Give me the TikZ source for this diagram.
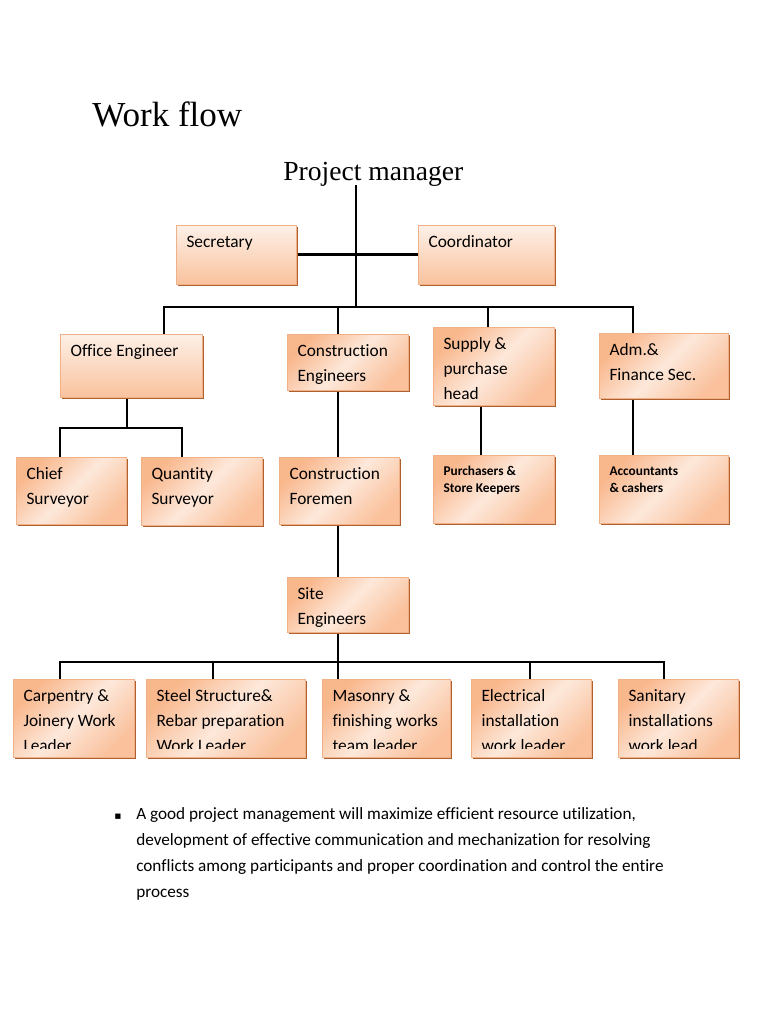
\documentclass[tikz,border=0pt]{standalone}
\usepackage{fontspec}
\setmainfont{Carlito}[Ligatures=NoCommon]
\newfontfamily\titlefont{Liberation Serif}
\newfontfamily\symfont{DejaVu Sans}
\usetikzlibrary{positioning, calc, shadows, backgrounds}
\definecolor{boxorange}{HTML}{F9B78C}
\definecolor{boxlight}{HTML}{FDE8DA}
\definecolor{boxtop}{HTML}{FDF0E7}
\definecolor{boxbottom}{HTML}{F9C29D}
\definecolor{boxedge}{HTML}{B05F2E}
\definecolor{boxline}{HTML}{F0B088}
\newcommand\boxfont{\fontsize{13}{18.75}\selectfont}
\newcommand\smallboxfont{\fontsize{10}{12.75}\selectfont\bfseries}
\newcommand\lines[1]{\begin{tabular}[t]{@{}l@{}}#1\end{tabular}}

\tikzset{
  clip inset/.store in=\clipinset, clip inset=2.5pt,
  link/.style={draw=black, line width=2pt, line cap=rect},
  orgbox/.style 2 args={draw=boxline, line width=0.4pt, anchor=north west, inner sep=0pt,
    minimum width=#1*0.75pt, minimum height=#2*0.75pt,
    general shadow={fill=boxedge, shadow xshift=1.3pt, shadow yshift=-1.3pt}},
  flatbox/.style 2 args={orgbox={#1}{#2}, top color=boxtop, bottom color=boxbottom},
  diagbox/.style 2 args={orgbox={#1}{#2}, left color=boxorange, right color=boxorange!80!boxlight,
    middle color=boxlight, shading angle=45},
  labeltext/.style={anchor=base west, inner sep=0pt, minimum width=0pt, minimum height=0pt, font=\boxfont},
  boxtext/.style={path picture={
    \clip ([yshift=\clipinset]path picture bounding box.south west) rectangle (path picture bounding box.north east);
    \node[labeltext] at ([xshift=7.5pt, yshift=-17pt]path picture bounding box.north west) {\lines{#1}};}},
  smalltext/.style={path picture={\node[labeltext, font=\smallboxfont] at ([xshift=7.5pt, yshift=-15pt]path picture bounding box.north west) {\lines{#1}};}}
}

\begin{document}
\begin{tikzpicture}[x=0.75pt, y=-0.75pt]
  \useasboundingbox (0,0) rectangle (768,1024);

  % Headings
  \node[anchor=base west, inner sep=0pt, font=\titlefont\fontsize{26.3}{30}\selectfont] (title) at (92,127) {Work flow};
  \node[anchor=base west, inner sep=0pt, font=\titlefont\fontsize{20.7}{24}\selectfont] (pm) at (283,180) {Project manager};

  % Staff boxes
  \node[flatbox={120}{59}, boxtext={Secretary}] (sec) at (176,225) {};
  \node[flatbox={136}{59}, boxtext={Coordinator}] (coo) at (418,225) {};

  % Department heads
  \node[flatbox={142}{63}, boxtext={Office Engineer}] (ofe) at (60,334) {};
  \node[diagbox={121}{56}, boxtext={Construction\\Engineers}] (coe) at (287,334) {};
  \node[diagbox={121}{78}, boxtext={Supply \&\\purchase\\head}] (sup) at (433,327) {};
  \node[diagbox={129}{65}, boxtext={Adm.\&\\Finance Sec.}] (adm) at (599,333) {};

  % Third level
  \node[diagbox={110}{67}, boxtext={Chief\\Surveyor}] (chs) at (16,457) {};
  \node[diagbox={121}{68}, boxtext={Quantity\\Surveyor}] (qts) at (141,457) {};
  \node[diagbox={120}{67}, boxtext={Construction\\Foremen}] (cof) at (279,457) {};
  \node[diagbox={121}{68}, smalltext={Purchasers \&\\Store Keepers}] (pur) at (433,455) {};
  \node[diagbox={129}{68}, smalltext={Accountants\\\& cashers}] (acc) at (599,455) {};

  \node[diagbox={121}{55}, boxtext={Site\\Engineers}] (sit) at (287,577) {};

  % Work leaders
  \begin{scope}[clip inset=6.75pt]
    \node[diagbox={121}{78}, boxtext={Carpentry \&\\Joinery Work\\Leader}] (car) at (13,679) {};
    \node[diagbox={159}{78}, boxtext={Steel Structure\&\\Rebar preparation\\Work Leader}] (ste) at (146,679) {};
    \node[diagbox={128}{78}, boxtext={Masonry \&\\finishing works\\team leader}] (mas) at (322,679) {};
    \node[diagbox={120}{78}, boxtext={Electrical\\installation\\work leader}] (ele) at (471,679) {};
    \node[diagbox={120}{78}, boxtext={Sanitary\\installations\\work lead}] (san) at (618,679) {};
  \end{scope}

  % Connectors
  \begin{scope}[on background layer]
    \coordinate (hub) at (356,307);
    \draw[link] (pm.south -| hub) -- (hub);
    \draw[link] (sec.east) -- (coo.west);
    \coordinate (busw) at (164,307);
    \coordinate (buse) at (633,307);
    \draw[link] (busw) -- (buse);
    \foreach \x/\n in {164/ofe, 338/coe, 488/sup, 633/adm} {
      \coordinate (d) at (\x,307);
      \draw[link] (d) -- (d |- \n.north);
    }
    % office engineer branch
    \coordinate (oj) at (127,428);
    \coordinate (ojw) at (60,428);
    \coordinate (oje) at (182,428);
    \draw[link] (oj |- ofe.south) -- (oj);
    \draw[link] (ojw) -- (oje);
    \draw[link] (ojw) -- (ojw |- chs.north);
    \draw[link] (oje) -- (oje |- qts.north);
    % single lines
    \coordinate (cx) at (338,0);
    \coordinate (sx) at (481,0);
    \coordinate (ax) at (633,0);
    \draw[link] (cx |- coe.south) -- (cx |- cof.north);
    \draw[link] (cx |- cof.south) -- (cx |- sit.north);
    \draw[link] (sx |- sup.south) -- (sx |- pur.north);
    \draw[link] (ax |- adm.south) -- (ax |- acc.north);
    % site engineers branch
    \coordinate (sj) at (338,662);
    \coordinate (sjw) at (60,662);
    \coordinate (sje) at (664,662);
    \draw[link] (sj |- sit.south) -- (sj);
    \draw[link] (sjw) -- (sje);
    \foreach \x/\n in {60/car, 213/ste, 338/mas, 530/ele, 664/san} {
      \coordinate (d) at (\x,662);
      \draw[link] (d) -- (d |- \n.north);
    }
  \end{scope}

  % Note
  \node[anchor=base west, inner sep=0pt, font=\symfont\fontsize{8}{9}\selectfont] (bullet) at (114,819) {▪};
  \node[anchor=base west, inner sep=0pt, font=\fontsize{12.9}{19.5}\selectfont] (note) at (136,819)
    {\lines{A good project management will maximize efficient resource utilization,\\
     development of effective communication and mechanization for resolving\\
     conflicts among participants and proper coordination and control the entire\\
     process}};
\end{tikzpicture}
\end{document}
